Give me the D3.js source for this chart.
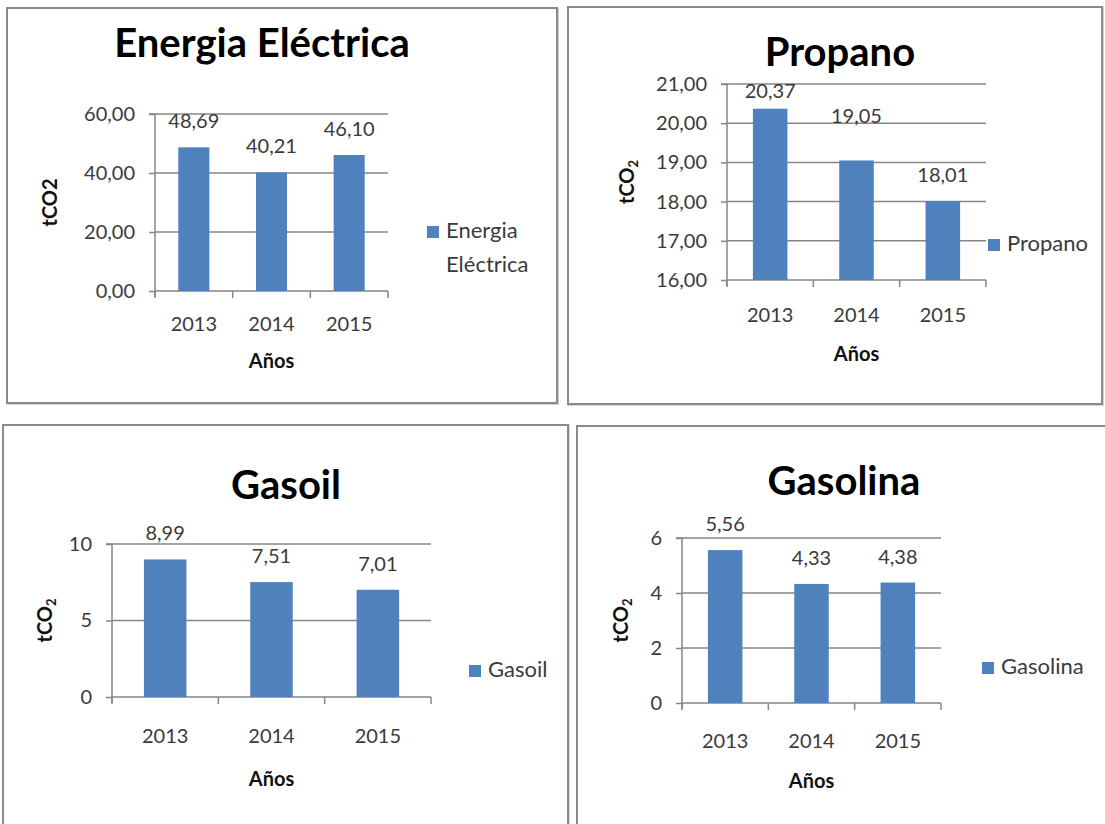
<!DOCTYPE html>
<html>
<head>
<meta charset="utf-8">
<script src="https://cdn.jsdelivr.net/npm/d3@7"></script>
<style>
  html, body { margin: 0; padding: 0; background: #ffffff; }
  svg { display: block; }
  text { font-family: Lato, "Open Sans", "Liberation Sans", sans-serif; }
</style>
</head>
<body>
<svg id="chart" width="1105" height="824"></svg>
<script>
// ---------- data ----------
const years = ["2013", "2014", "2015"];
const energiaValues = [48.69, 40.21, 46.10];
const propanoValues = [20.37, 19.05, 18.01];
const gasoilValues = [8.99, 7.51, 7.01];
const gasolinaValues = [5.56, 4.33, 4.38];

const energiaTicks = [0, 20, 40, 60];
const propanoTicks = [16, 17, 18, 19, 20, 21];
const gasoilTicks = [0, 5, 10];
const gasolinaTicks = [0, 2, 4, 6];

const titles = ["Energia Eléctrica", "Propano", "Gasoil", "Gasolina"];
const legendLabels = [["Energia", "Eléctrica"], ["Propano"], ["Gasoil"], ["Gasolina"]];
const xTitle = "Años";
const yTitle = "tCO";

// ---------- styles / layout ----------
const BAR = "#4F81BD";
const GRID = "#868686";
const TXT = "#3a3a3a";

const locale = d3.formatLocale({decimal: ",", thousands: ".", grouping: [3], currency: ["", "€"]});
const f2 = locale.format(".2f");
const f0 = locale.format("d");

const panels = [
  { title: titles[0], values: energiaValues, ticks: energiaTicks, fmt: f2, legend: legendLabels[0], sub: false,
    box: [7, 8, 557, 403], plot: [155, 388, 114, 291], titleX: 262, titleY: 57,
    xLabY: 331, xTitleY: 368, yTitleX: 57, legX: 427, legY: 226, labelNudge: [0, 0, 0] },
  { title: titles[1], values: propanoValues, ticks: propanoTicks, fmt: f2, legend: legendLabels[1], sub: true,
    box: [568, 7, 1102, 404], plot: [727, 986, 84, 280], titleX: 840, titleY: 66,
    xLabY: 322, xTitleY: 361, yTitleX: 634, legX: 988, legY: 239, labelNudge: [8, -18, 0] },
  { title: titles[2], values: gasoilValues, ticks: gasoilTicks, fmt: f0, legend: legendLabels[2], sub: true,
    box: [3, 425, 568, 840], plot: [112, 431, 544, 697], titleX: 286, titleY: 499,
    xLabY: 743, xTitleY: 786, yTitleX: 52, legX: 469, legY: 665, labelNudge: [0, 0, 0] },
  { title: titles[3], values: gasolinaValues, ticks: gasolinaTicks, fmt: f0, legend: legendLabels[3], sub: true,
    box: [577, 426, 1115, 840], plot: [682, 941, 538, 703], titleX: 844, titleY: 495,
    xLabY: 748, xTitleY: 788, yTitleX: 628, legX: 982, legY: 662, labelNudge: [0, 0, 0] }
];

const svg = d3.select("#chart");

panels.forEach(p => {
  const g = svg.append("g");
  const [bx0, by0, bx1, by1] = p.box;
  // frame
  g.append("rect").attr("x", bx0 + 1).attr("y", by0 + 1).attr("width", bx1 - bx0).attr("height", by1 - by0)
    .attr("fill", "none").attr("stroke", "#d2d2d2").attr("stroke-width", 2);
  g.append("rect").attr("x", bx0).attr("y", by0).attr("width", bx1 - bx0).attr("height", by1 - by0)
    .attr("fill", "#ffffff").attr("stroke", "#8a8a8a").attr("stroke-width", 2);

  const [px0, px1, pyTop, pyBot] = p.plot;
  const x = d3.scaleBand().domain(years).range([px0, px1]).paddingInner(0.6).paddingOuter(0.3);
  const y = d3.scaleLinear().domain(d3.extent(p.ticks)).range([pyBot, pyTop]);

  // gridlines
  g.append("g").selectAll("line").data(p.ticks).join("line")
    .attr("x1", px0).attr("x2", px1)
    .attr("y1", d => y(d)).attr("y2", d => y(d))
    .attr("stroke", GRID).attr("stroke-width", 1.5);

  // bars
  g.append("g").selectAll("rect").data(p.values).join("rect")
    .attr("x", (d, i) => x(years[i]))
    .attr("width", x.bandwidth())
    .attr("y", d => y(d))
    .attr("height", d => y(y.domain()[0]) - y(d))
    .attr("fill", BAR);

  // y axis
  const yAxis = d3.axisLeft(y).tickValues(p.ticks).tickFormat(p.fmt).tickSize(6).tickPadding(14);
  const ya = g.append("g").attr("transform", `translate(${px0},0)`).call(yAxis);
  ya.select(".domain").attr("stroke", GRID).attr("stroke-width", 1.5).attr("d", `M-6,${pyTop}H0V${pyBot + 6}`);
  ya.selectAll(".tick line").attr("stroke", GRID).attr("stroke-width", 1.5);
  ya.selectAll(".tick text").attr("fill", TXT).style("font-size", "20px").style("font-family", "Lato");

  // x axis
  const step = x.step();
  const bounds = d3.range(years.length + 1).map(i => px0 + i * step);
  g.append("g").selectAll("line").data(bounds).join("line")
    .attr("x1", d => d).attr("x2", d => d).attr("y1", pyBot).attr("y2", pyBot + 7)
    .attr("stroke", GRID).attr("stroke-width", 1.5);
  g.append("g").selectAll("text").data(years).join("text")
    .attr("x", d => x(d) + x.bandwidth() / 2).attr("y", p.xLabY)
    .attr("text-anchor", "middle").attr("fill", TXT).style("font-size", "20px")
    .text(d => d);

  // data labels
  g.append("g").selectAll("text").data(p.values).join("text")
    .attr("x", (d, i) => x(years[i]) + x.bandwidth() / 2)
    .attr("y", (d, i) => y(d) - 19 + p.labelNudge[i])
    .attr("text-anchor", "middle").attr("fill", TXT).style("font-size", "20px")
    .text(d => f2(d));

  // title
  g.append("text").attr("x", p.titleX).attr("y", p.titleY).attr("text-anchor", "middle")
    .attr("fill", "#000").style("font-size", "40px").style("font-weight", "bold").text(p.title);

  // x title
  g.append("text").attr("x", (px0 + px1) / 2).attr("y", p.xTitleY).attr("text-anchor", "middle")
    .attr("fill", "#111").style("font-size", "20px").style("font-weight", "bold").text(xTitle);

  // y title
  const yt = g.append("text")
    .attr("transform", `translate(${p.yTitleX},${(pyTop + pyBot) / 2}) rotate(-90)`)
    .attr("text-anchor", "middle").attr("fill", "#111").style("font-size", "20px").style("font-weight", "bold");
  yt.append("tspan").text(yTitle);
  if (p.sub) {
    yt.append("tspan").attr("dy", 4).style("font-size", "13px").text("2");
  } else {
    yt.append("tspan").text("2");
  }

  // legend
  g.append("rect").attr("x", p.legX).attr("y", p.legY).attr("width", 12).attr("height", 12).attr("fill", BAR);
  g.append("g").selectAll("text").data(p.legend).join("text")
    .attr("x", p.legX + 19).attr("y", (d, i) => p.legY + 12 + i * 34)
    .attr("fill", TXT).style("font-size", "22px").text(d => d);
});
</script>
</body>
</html>
